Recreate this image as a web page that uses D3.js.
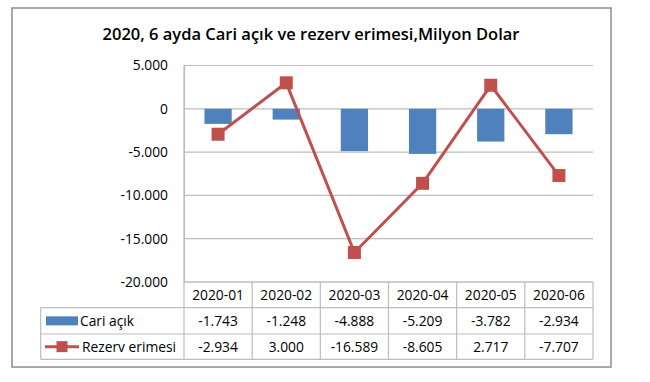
<!DOCTYPE html>
<html><head><meta charset="utf-8">
<script src="https://cdn.jsdelivr.net/npm/d3@7"></script>
<style>
html,body{margin:0;padding:0;background:#fff;}
text{font-family:"Open Sans","Noto Sans",sans-serif;}
</style>
</head><body>
<svg id="c" width="650" height="382"></svg>
<script>
const categories = ["2020-01","2020-02","2020-03","2020-04","2020-05","2020-06"];
const cariAcik = [-1743,-1248,-4888,-5209,-3782,-2934];
const rezervErimesi = [-2934,3000,-16589,-8605,2717,-7707];
const yTicks = [5000,0,-5000,-10000,-15000,-20000];
const seriesNames = ["Cari açık","Rezerv erimesi"];
const title = "2020, 6 ayda Cari açık ve rezerv erimesi,Milyon Dolar";

const svg = d3.select("#c");
const L = 184, R = 593, T = 65.5, B = 282;
const fmt = v => d3.format(",.0f")(v).replace(/,/g,".").replace("\u2212","-");
const FS = 13.8;

// outer frame
svg.append("rect").attr("x",12).attr("y",8).attr("width",599).attr("height",359)
  .attr("fill","#fff").attr("stroke","#8c8c8c").attr("stroke-width",1.5);

svg.append("text").attr("x",311).attr("y",40).attr("text-anchor","middle")
  .attr("font-size",16.5).attr("font-weight","600").attr("fill","#000").text(title);

const x = d3.scaleBand().domain(categories).range([L,R]).padding(0);
const y = d3.scaleLinear().domain([-20000,5000]).range([B,T]);

// gridlines
svg.append("g").selectAll("line").data(yTicks).join("line")
  .attr("x1",L).attr("x2",R).attr("y1",d=>y(d)).attr("y2",d=>y(d))
  .attr("stroke","#bdbdbd").attr("stroke-width",1.2);

// y axis
const yAxis = d3.axisLeft(y).tickValues(yTicks).tickSize(0).tickPadding(16)
  .tickFormat(d => d===0 ? "0" : fmt(d));
const ga = svg.append("g").attr("transform",`translate(${L},0)`).call(yAxis);
ga.select(".domain").attr("stroke","#bdbdbd").attr("stroke-width",1.2);
ga.selectAll("text").attr("font-size",FS).attr("fill","#000")
  .style("font-family","'Open Sans','Noto Sans',sans-serif");

// bars
const bw = x.bandwidth()*0.4;
svg.append("g").selectAll("rect").data(cariAcik).join("rect")
  .attr("x",(d,i)=>x(categories[i])+x.bandwidth()/2-bw/2)
  .attr("width",bw)
  .attr("y",d=>y(Math.max(0,d)))
  .attr("height",d=>Math.abs(y(d)-y(0)))
  .attr("fill","#4f81bd");

// line
const line = d3.line().x((d,i)=>x(categories[i])+x.bandwidth()/2).y(d=>y(d));
svg.append("path").datum(rezervErimesi).attr("d",line)
  .attr("fill","none").attr("stroke","#c0504d").attr("stroke-width",3).attr("stroke-linejoin","round");
const ms = 13;
svg.append("g").selectAll("rect").data(rezervErimesi).join("rect")
  .attr("x",(d,i)=>x(categories[i])+x.bandwidth()/2-ms/2)
  .attr("y",d=>y(d)-ms/2).attr("width",ms).attr("height",ms)
  .attr("fill","#c0504d");

// data table
const rowTop = [282, 307.7, 334, 359.3];
const LL = 40.7;
const tg = svg.append("g");
const gc = "#bdbdbd";
tg.append("line").attr("x1",L).attr("x2",R).attr("y1",rowTop[0]).attr("y2",rowTop[0]).attr("stroke",gc).attr("stroke-width",1.2);
[1,2,3].forEach(k=>{
  tg.append("line").attr("x1",LL).attr("x2",R).attr("y1",rowTop[k]).attr("y2",rowTop[k]).attr("stroke",gc).attr("stroke-width",1.2);
});
tg.append("line").attr("x1",LL).attr("x2",LL).attr("y1",rowTop[1]).attr("y2",rowTop[3]).attr("stroke",gc).attr("stroke-width",1.2);
const bounds = categories.map(c=>x(c)).concat([R]);
bounds.forEach((bx,i)=>{
  tg.append("line").attr("x1",bx).attr("x2",bx).attr("y1",i===0?T:rowTop[0]).attr("y2",rowTop[3]).attr("stroke",gc).attr("stroke-width",1.2);
});
tg.selectAll("text.h").data(categories).join("text").attr("class","h")
  .attr("x",d=>x(d)+x.bandwidth()/2).attr("y",(rowTop[0]+rowTop[1])/2+5)
  .attr("text-anchor","middle").attr("font-size",FS).attr("fill","#000").text(d=>d);
[cariAcik, rezervErimesi].forEach((arr,k)=>{
  tg.selectAll("text.r"+k).data(arr).join("text").attr("class","r"+k)
    .attr("x",(d,i)=>x(categories[i])+x.bandwidth()/2).attr("y",(rowTop[k+1]+rowTop[k+2])/2+5)
    .attr("text-anchor","middle").attr("font-size",FS).attr("fill","#000").text(d=>fmt(d));
});
const c1 = (rowTop[1]+rowTop[2])/2, c2 = (rowTop[2]+rowTop[3])/2;
tg.append("rect").attr("x",46).attr("y",c1-4.5).attr("width",32).attr("height",9).attr("fill","#4f81bd");
tg.append("line").attr("x1",45).attr("x2",79).attr("y1",c2).attr("y2",c2).attr("stroke","#c0504d").attr("stroke-width",3);
tg.append("rect").attr("x",62-5.5).attr("y",c2-5.5).attr("width",11).attr("height",11).attr("fill","#c0504d");
tg.append("text").attr("x",80).attr("y",c1+5).attr("font-size",FS).attr("fill","#000").text(seriesNames[0]);
tg.append("text").attr("x",82).attr("y",c2+5).attr("font-size",FS).attr("fill","#000").text(seriesNames[1]);
</script>
</body></html>
